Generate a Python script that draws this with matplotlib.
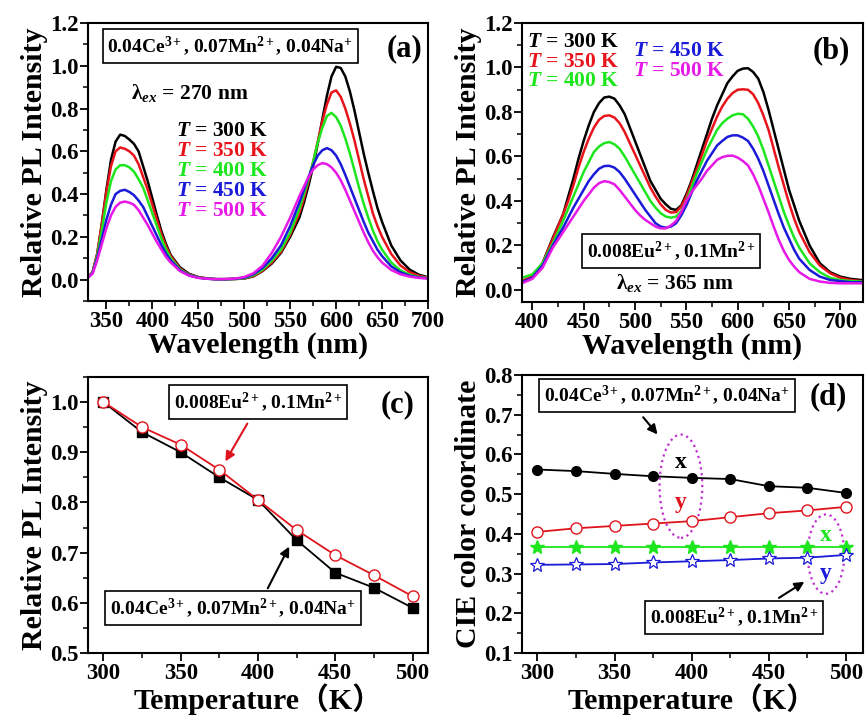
import numpy as np
import matplotlib
matplotlib.use("Agg")
import matplotlib.pyplot as plt
from matplotlib.patches import Ellipse
from matplotlib.ticker import MultipleLocator, FormatStrFormatter

plt.rcParams['font.family'] = ['Liberation Serif', 'Noto Sans CJK SC']
plt.rcParams['font.weight'] = 'bold'
plt.rcParams['mathtext.fontset'] = 'custom'
plt.rcParams['mathtext.rm'] = 'Liberation Serif:bold'
plt.rcParams['mathtext.bf'] = 'Liberation Serif:bold'
plt.rcParams['mathtext.it'] = 'Liberation Serif:italic:bold'

# ---------------- data ----------------
temps_labels = ["300", "350", "400", "450", "500"]
colors = ["#000000", "#e8141c", "#1ee61e", "#1a1ad8", "#e619e6"]

# (a) spectra, excitation 270 nm
wl_a = (list(range(330, 421, 5)) + list(range(430, 561, 10)) +
        list(range(565, 651, 5)) + list(range(660, 701, 10)))
a_300 = [.01, .035, .12, .26, .42, .56, .645, .678, .672, .655, .635, .60, .53, .46, .38, .30, .225, .165, .115,
         .058, .027, .012, .005, .002, .002, .003, .005, .015, .04, .075, .125, .20, .29,
         .36, .44, .53, .635, .75, .86, .95, .995, .99, .95, .88, .79, .69, .59, .50, .415, .335, .27,
         .16, .09, .047, .023, .011]
a_350 = [.01, .035, .12, .26, .41, .53, .60, .618, .612, .60, .58, .54, .48, .42, .35, .28, .21, .155, .11,
         .052, .024, .011, .005, .002, .002, .003, .006, .016, .042, .08, .13, .21, .31,
         .38, .46, .55, .645, .74, .82, .875, .885, .855, .80, .73, .65, .56, .47, .39, .31, .25, .20,
         .12, .066, .035, .018, .009]
a_400 = [.01, .032, .11, .23, .36, .46, .515, .535, .535, .525, .505, .47, .43, .37, .31, .25, .19, .14, .10,
         .048, .022, .010, .004, .002, .002, .003, .007, .02, .047, .088, .14, .22, .33,
         .40, .47, .55, .64, .71, .765, .78, .76, .72, .66, .59, .51, .43, .355, .29, .23, .18, .14,
         .08, .043, .023, .012, .007]
a_450 = [.01, .03, .10, .19, .28, .35, .40, .415, .42, .41, .395, .37, .34, .295, .25, .205, .16, .12, .09,
         .044, .02, .009, .004, .002, .002, .004, .009, .025, .055, .10, .16, .25, .36,
         .42, .48, .535, .58, .605, .615, .605, .58, .54, .49, .435, .38, .325, .27, .22, .18, .14, .11,
         .062, .034, .018, .01, .006]
a_500 = [.01, .028, .09, .165, .24, .30, .34, .36, .365, .36, .35, .325, .29, .255, .215, .175, .14, .105, .08,
         .04, .018, .008, .004, .002, .003, .005, .012, .03, .065, .125, .20, .29, .39,
         .435, .48, .515, .535, .545, .54, .525, .50, .465, .42, .37, .32, .27, .22, .175, .135, .105, .08,
         .045, .025, .014, .008, .005]

# (b) spectra, excitation 365 nm
wl_b = [390, 400, 410, 420] + list(range(430, 661, 5)) + list(range(670, 721, 10))
b_300 = [.04, .06, .12, .235,
         .34, .42, .50, .59, .67, .74, .80, .84, .865, .869, .86, .83, .79, .73, .67, .61, .55, .49, .45, .41,
         .385, .365, .36, .38, .43, .49, .56, .63, .70, .77, .83, .88, .93, .96, .985, .995, .997, .98, .95, .89,
         .81, .72, .63, .54, .45, .38, .31,
         .20, .12, .08, .06, .05, .045]
b_350 = [.04, .06, .12, .23,
         .34, .40, .47, .55, .62, .68, .73, .765, .782, .785, .775, .75, .71, .66, .61, .56, .51, .46, .42, .385,
         .36, .348, .35, .375, .42, .48, .54, .605, .67, .725, .78, .825, .86, .885, .90, .902, .90, .88, .84, .785,
         .72, .635, .55, .47, .39, .32, .26,
         .17, .11, .075, .055, .045, .04]
b_400 = [.055, .07, .12, .21,
         .31, .365, .42, .475, .53, .575, .62, .645, .66, .665, .655, .635, .60, .56, .52, .48, .44, .40, .37, .345,
         .33, .325, .33, .355, .40, .46, .52, .575, .63, .675, .72, .75, .77, .785, .792, .79, .77, .735, .69, .63,
         .56, .49, .42, .35, .29, .235, .19,
         .12, .08, .055, .045, .04, .038]
b_450 = [.035, .055, .11, .20,
         .28, .325, .37, .41, .45, .49, .52, .545, .557, .558, .55, .53, .50, .465, .43, .395, .36, .33, .30, .285,
         .28, .285, .30, .335, .38, .435, .49, .535, .58, .615, .65, .67, .688, .695, .695, .685, .67, .635, .59, .535,
         .47, .405, .34, .28, .23, .18, .14,
         .09, .06, .045, .04, .035, .035]
b_500 = [.03, .05, .10, .19,
         .26, .295, .33, .365, .40, .43, .46, .48, .489, .485, .475, .45, .42, .39, .36, .335, .315, .30, .285, .277,
         .277, .29, .31, .35, .40, .44, .47, .50, .535, .56, .585, .597, .603, .604, .595, .58, .56, .52, .47, .41,
         .35, .285, .225, .175, .135, .105, .08,
         .05, .038, .032, .03, .03, .03]

# (c) relative integrated intensity vs temperature
temp = [300, 325, 350, 375, 400, 425, 450, 475, 500]
c_ce = [1.0, 0.94, 0.90, 0.85, 0.805, 0.725, 0.66, 0.63, 0.59]
c_eu = [1.0, 0.95, 0.915, 0.865, 0.805, 0.745, 0.695, 0.655, 0.613]

# (d) CIE coordinates vs temperature
d_ce_x = [0.562, 0.558, 0.551, 0.545, 0.541, 0.538, 0.520, 0.516, 0.503]
d_ce_y = [0.405, 0.414, 0.420, 0.426, 0.432, 0.442, 0.452, 0.459, 0.468]
d_eu_x = [0.368, 0.368, 0.368, 0.368, 0.368, 0.368, 0.368, 0.368, 0.368]
d_eu_y = [0.322, 0.323, 0.324, 0.328, 0.331, 0.334, 0.338, 0.340, 0.347]

lab_ce = r'0.04Ce$^{3+}$, 0.07Mn$^{2+}$, 0.04Na$^{+}$'
lab_eu = r'0.008Eu$^{2+}$, 0.1Mn$^{2+}$'

# ---------------- figure ----------------
fig = plt.figure(figsize=(8.65, 7.18), dpi=100)
W, H = 865, 718

def add_ax(l, r, t, b):
    return fig.add_axes([l / W, 1 - b / H, (r - l) / W, (b - t) / H])

axA = add_ax(88, 428, 23, 301)
axB = add_ax(522, 863, 23, 302)
axC = add_ax(88, 428, 377, 653)
axD = add_ax(522, 863, 375, 653)

TICK = 16.5
LAB = 21.5
BOXF = 14
PANEL = 22

def style(ax, xmaj, xmin, ymaj, ymin, yfmt):
    for s in ax.spines.values():
        s.set_linewidth(1.5)
    ax.xaxis.set_major_locator(MultipleLocator(xmaj))
    ax.xaxis.set_minor_locator(MultipleLocator(xmin))
    ax.yaxis.set_major_locator(MultipleLocator(ymaj))
    ax.yaxis.set_minor_locator(MultipleLocator(ymin))
    ax.yaxis.set_major_formatter(FormatStrFormatter(yfmt))
    ax.tick_params(which='major', direction='out', length=6, width=1.3, labelsize=TICK, pad=1)
    ax.tick_params(which='minor', direction='out', length=3.5, width=1.1)
    ax.tick_params(top=False, right=False, which='both')
    for lab in ax.get_xticklabels() + ax.get_yticklabels():
        lab.set_fontweight('bold')

box = dict(boxstyle='square,pad=0.25', fc='white', ec='black', lw=1.2)
lam = r'$\mathrm{\lambda}_{\mathit{ex}}$'

# ---- (a)
spec_a = [a_300, a_350, a_400, a_450, a_500]
for vals, c in zip(spec_a, colors):
    axA.plot(wl_a, vals, color=c, lw=1.8)
axA.set_xlim(330, 700)
axA.set_ylim(-0.1, 1.2)
style(axA, 50, 25, 0.2, 0.1, '%.1f')
axA.set_xlabel('Wavelength (nm)', fontsize=LAB, fontweight='bold', labelpad=0)
axA.set_ylabel('Relative PL Intensity', fontsize=LAB, fontweight='bold', labelpad=1)
axA.text(485, 1.092, lab_ce, fontsize=BOXF, ha='center', va='center', bbox=box)
axA.text(674, 1.082, '(a)', fontsize=PANEL, ha='center', va='center')
axA.text(441, 0.875, lam + ' = 270 nm', fontsize=15.5, ha='center', va='center')
for i, (t, c) in enumerate(zip(temps_labels, colors)):
    axA.text(426, 0.696 - i * 0.094, r'$T$ = ' + t + ' K', color=c, fontsize=15.5,
             ha='left', va='center')

# ---- (b)
spec_b = [b_300, b_350, b_400, b_450, b_500]
for vals, c in zip(spec_b, colors):
    axB.plot(wl_b, vals, color=c, lw=1.8)
axB.set_xlim(390, 722)
axB.set_ylim(-0.054, 1.2)
style(axB, 50, 25, 0.2, 0.1, '%.1f')
axB.set_xlabel('Wavelength (nm)', fontsize=LAB, fontweight='bold', labelpad=0)
axB.set_ylabel('Relative PL Intensity', fontsize=LAB, fontweight='bold', labelpad=1)
pos_b = [(395, 1.114), (395, 1.024), (395, 0.938), (498, 1.074), (498, 0.983)]
for (x, y), t, c in zip(pos_b, temps_labels, colors):
    axB.text(x, y, r'$T$ = ' + t + ' K', color=c, fontsize=15.5, ha='left', va='center')
axB.text(691, 1.074, '(b)', fontsize=PANEL, ha='center', va='center')
axB.text(535, 0.176, lab_eu, fontsize=BOXF, ha='center', va='center', bbox=box)
axB.text(539, 0.032, lam + ' = 365 nm', fontsize=15.5, ha='center', va='center')

# ---- (c)
axC.plot(temp, c_ce, color='black', lw=1.3, marker='s', ms=7, mfc='black', mec='black', zorder=3)
axC.plot(temp, c_eu, color='#e0141c', lw=1.3, marker='o', ms=8, mfc='white', mec='#e0141c', zorder=4)
axC.set_xlim(290, 510)
axC.set_ylim(0.5, 1.05)
style(axC, 50, 25, 0.1, 0.05, '%.1f')
axC.set_xlabel('Temperature（K）', fontsize=LAB, fontweight='bold', labelpad=0)
axC.set_ylabel('Relative PL Intensity', fontsize=LAB, fontweight='bold', labelpad=1)
axC.text(400, 1.0, lab_eu, fontsize=BOXF, ha='center', va='center', bbox=box)
axC.text(490.6, 0.994, '(c)', fontsize=PANEL, ha='center', va='center')
axC.text(384, 0.59, lab_ce, fontsize=BOXF, ha='center', va='center', bbox=box)
axC.annotate('', xy=(378, 0.877), xytext=(394, 0.962),
             arrowprops=dict(arrowstyle='-|>', color='#e0141c', lw=1.5, mutation_scale=14))
axC.annotate('', xy=(421, 0.717), xytext=(405.5, 0.624),
             arrowprops=dict(arrowstyle='-|>', color='black', lw=1.5, mutation_scale=14))

# ---- (d)
axD.plot(temp, d_ce_x, color='black', lw=1.3, marker='o', ms=7, mfc='black', mec='black')
axD.plot(temp, d_ce_y, color='#e0141c', lw=1.3, marker='o', ms=8, mfc='white', mec='#e0141c')
axD.plot(temp, d_eu_x, color='#1ee61e', lw=1.3, marker='*', ms=10, mfc='#1ee61e', mec='#1ee61e')
axD.plot(temp, d_eu_y, color='#1a1ad8', lw=1.3, marker='*', ms=10, mfc='white', mec='#1a1ad8', mew=0.9)
axD.set_xlim(290, 511)
axD.set_ylim(0.1, 0.8)
style(axD, 50, 25, 0.1, 0.05, '%.1f')
axD.set_xlabel('Temperature（K）', fontsize=LAB, fontweight='bold', labelpad=0)
axD.set_ylabel('CIE color coordinate', fontsize=LAB, fontweight='bold', labelpad=1)
axD.text(384, 0.749, lab_ce, fontsize=BOXF, ha='center', va='center', bbox=box)
axD.text(488.7, 0.745, '(d)', fontsize=PANEL, ha='center', va='center')
axD.text(427.4, 0.19, lab_eu, fontsize=BOXF, ha='center', va='center', bbox=box)
axD.annotate('', xy=(379, 0.645), xytext=(367.4, 0.699),
             arrowprops=dict(arrowstyle='-|>', color='black', lw=1.5, mutation_scale=14))
axD.annotate('', xy=(474.5, 0.283), xytext=(455, 0.235),
             arrowprops=dict(arrowstyle='-|>', color='black', lw=1.5, mutation_scale=14))
axD.add_patch(Ellipse((393, 0.52), 27.7, 0.26, fill=False, ec='#c030d0', ls=':', lw=1.6))
axD.add_patch(Ellipse((487, 0.349), 23.7, 0.20, fill=False, ec='#c030d0', ls=':', lw=1.6))
axD.text(393, 0.58, 'x', color='black', fontsize=17, ha='center', va='center')
axD.text(393, 0.48, 'y', color='#e0141c', fontsize=17, ha='center', va='center')
axD.text(487, 0.397, 'x', color='#1ee61e', fontsize=17, ha='center', va='center')
axD.text(487, 0.30, 'y', color='#1a1ad8', fontsize=17, ha='center', va='center')

fig.savefig('out.png', dpi=100)
